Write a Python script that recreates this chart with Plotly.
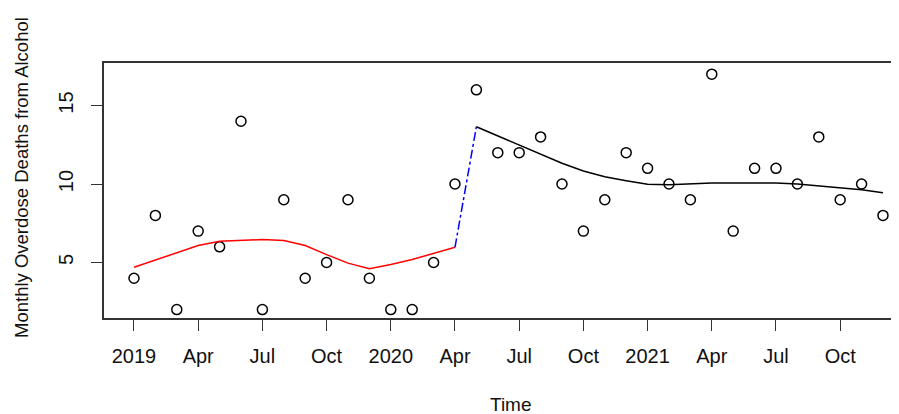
import plotly.graph_objects as go

# ---- data ----
months = [f"{y}-{m:02d}" for y in (2019, 2020, 2021) for m in range(1, 13)]
deaths = [4, 8, 2, 7, 6, 14, 2, 9, 4, 5, 9, 4,
          2, 2, 5, 10, 16, 12, 12, 13, 10, 7, 9, 12,
          11, 10, 9, 17, 7, 11, 11, 10, 13, 9, 10, 8]
# smoothed trend before the break (Jan 2019 - Apr 2020)
trend_pre = [4.7, 5.17, 5.63, 6.08, 6.36, 6.43, 6.46, 6.4, 6.08, 5.5, 4.96, 4.6,
             4.87, 5.19, 5.57, 5.97]
# smoothed trend after the break (May 2020 - Dec 2021)
trend_post = [13.65, 13.06, 12.48, 11.89, 11.32, 10.83, 10.47, 10.21, 9.98, 9.96,
              10.02, 10.06, 10.06, 10.06, 10.06, 10.0, 9.87, 9.77, 9.64, 9.45]
tick_vals = [2019, 2019.25, 2019.5, 2019.75, 2020, 2020.25, 2020.5, 2020.75,
             2021, 2021.25, 2021.5, 2021.75]
tick_text = ["2019", "Apr", "Jul", "Oct", "2020", "Apr", "Jul", "Oct",
             "2021", "Apr", "Jul", "Oct"]
y_ticks = [5, 10, 15]

t = [int(s[:4]) + (int(s[5:]) - 1) / 12 for s in months]
n_pre = len(trend_pre)
t_pre = t[:n_pre]
t_post = t[n_pre:]

FONT = "Liberation Sans, Arial, sans-serif"
W, H = 891, 406
L, T, B = 96, 55, 96
PW = W - L
PH = H - T - B

fig = go.Figure()
fig.add_trace(go.Scatter(x=t, y=deaths, mode="markers",
                         marker=dict(symbol="circle-open", size=10, color="black",
                                     line=dict(width=1.5, color="black")),
                         showlegend=False))
fig.add_trace(go.Scatter(x=t_pre, y=trend_pre, mode="lines",
                         line=dict(color="red", width=1.5), showlegend=False))
fig.add_trace(go.Scatter(x=[t_pre[-1], t_post[0]], y=[trend_pre[-1], trend_post[0]],
                         mode="lines", line=dict(color="blue", width=1.5, dash="dashdot"),
                         showlegend=False))
fig.add_trace(go.Scatter(x=t_post, y=trend_post, mode="lines",
                         line=dict(color="black", width=1.5), showlegend=False))

fig.update_layout(
    width=W, height=H,
    margin=dict(l=L, r=0, t=T, b=B),
    paper_bgcolor="white", plot_bgcolor="white",
    font=dict(family=FONT, size=20, color="#111111"),
    xaxis=dict(range=[2018.8832, 2021.979], tickmode="array",
               tickvals=tick_vals, ticktext=tick_text,
               showgrid=False, zeroline=False,
               showline=True, mirror=True, linecolor="#333333", linewidth=1.5,
               ticks="outside", ticklen=11, tickwidth=1, tickcolor="#333333",
               ticklabelstandoff=8),
    yaxis=dict(range=[1.465, 17.71], tickmode="array", tickvals=y_ticks,
               showgrid=False, zeroline=False,
               showline=True, mirror=False, linecolor="#333333", linewidth=1.5,
               ticks="outside", ticklen=11, tickwidth=1, tickcolor="#333333",
               tickangle=-90, ticklabelstandoff=10),
    annotations=[
        dict(text="Time", xref="paper", yref="paper", x=(503 - L) / PW, y=-(396 - (T + PH)) / PH,
             xanchor="center", yanchor="middle", showarrow=False,
             font=dict(family=FONT, size=19, color="#111111")),
        dict(text="Monthly Overdose Deaths from Alcohol", xref="paper", yref="paper",
             x=-(L - 13) / PW, y=((T + PH) - 170) / PH, textangle=-90,
             xanchor="center", yanchor="middle", showarrow=False,
             font=dict(family=FONT, size=18.5, color="#111111")),
    ],
)

fig.write_html("out.html")
